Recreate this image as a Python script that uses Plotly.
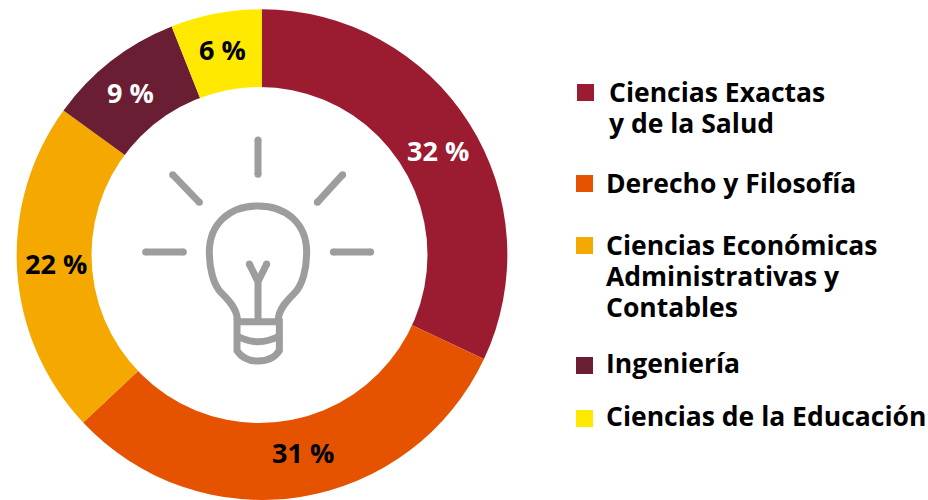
import plotly.graph_objects as go

W, H = 928, 500
categories = ["Ciencias Exactas<br>y de la Salud", "Derecho y Filosofía",
              "Ciencias Económicas<br>Administrativas y<br>Contables", "Ingeniería",
              "Ciencias de la Educación"]
values = [32, 31, 22, 9, 6]
colors = ["#9B1B30", "#E55300", "#F5A800", "#6A1E33", "#FFE900"]
text_colors = ["#FFFFFF", "#000000", "#000000", "#FFFFFF", "#000000"]
FONT = "Open Sans"
ICON = "#9D9D9C"

# value label centres in pixels
label_x = [437.5, 303, 55.5, 130.5, 222]
label_y = [150, 452, 263, 93, 50]

# legend layout: square left, square top, text left, first-line centre, line step
legend_x = [577, 576, 576, 576, 576]
legend_y = [84, 175, 237, 357, 410]
legend_tx = [606.5, 603.5, 603.5, 603.5, 603.5]
legend_cy = [92, 183, 245, 363, 416]
STEP = 31


def px(x):
    return x / W


def py(y):
    return 1 - y / H


fig = go.Figure()
fig.add_trace(go.Pie(
    labels=[c.replace("<br>", " ") for c in categories], values=values, sort=False,
    direction="clockwise", rotation=0, hole=0.66,
    domain=dict(x=[16.5 / W, 507.5 / W], y=[0, 490.7 / H]),
    marker=dict(colors=colors, line=dict(width=0)),
    textinfo="none", showlegend=False, hoverinfo="label+percent",
))


def circle(cx, cy, r, color):
    return dict(type="circle", xref="paper", yref="paper", x0=px(cx - r), x1=px(cx + r),
                y0=py(cy + r), y1=py(cy - r), fillcolor=color, line_width=0)


# inner opening of the ring sits slightly left of the outer circle's centre
shapes = [circle(259.5, 255, 168, "white")]
annotations = []
for v, x, y, c in zip(values, label_x, label_y, text_colors):
    annotations.append(dict(text=f"{v} %", xref="paper", yref="paper", x=px(x), y=py(y),
                            xanchor="center", yanchor="middle", showarrow=False,
                            font=dict(family=FONT, size=27, color=c, weight=700)))
for i, cat in enumerate(categories):
    shapes.append(dict(type="rect", xref="paper", yref="paper", x0=px(legend_x[i]), x1=px(legend_x[i] + 17),
                       y0=py(legend_y[i] + 17), y1=py(legend_y[i]), fillcolor=colors[i], line_width=0))
    for j, line in enumerate(cat.split("<br>")):
        annotations.append(dict(text=line, xref="paper", yref="paper", x=px(legend_tx[i]),
                                y=py(legend_cy[i] + j * STEP), xanchor="left", yanchor="middle", showarrow=False,
                                font=dict(family=FONT, size=26.5, color="#000000", weight=700)))


# light-bulb icon, traced in 3x crop coordinates starting at (130, 120)
def ix(x):
    return 130 + x / 3


def iy(y):
    return 120 + y / 3


def path(cmds):
    out = []
    for c in cmds:
        pts = [f"{px(ix(c[i])):.5f} {py(iy(c[i + 1])):.5f}" for i in range(1, len(c), 2)]
        out.append(c[0] + " " + ", ".join(pts))
    return " ".join(out)


bulb_paths = [
    [("M", 322, 600), ("C", 322, 565, 290, 535, 275, 520), ("C", 250, 495, 238, 445, 238, 397),
     ("C", 238, 310, 300, 258, 384, 258), ("C", 468, 258, 530, 310, 530, 397),
     ("C", 530, 445, 518, 495, 493, 520), ("C", 478, 535, 445, 565, 445, 600)],
    [("M", 321, 605), ("L", 448, 605), ("L", 448, 692), ("C", 430, 720, 405, 723, 384, 723),
     ("C", 365, 723, 340, 720, 321, 692), ("Z",)],
    [("M", 321, 648), ("Q", 384, 682, 448, 648)],
    [("M", 384, 600), ("L", 384, 485), ("L", 358, 432), ("M", 384, 485), ("L", 410, 432)],
]
for bp in bulb_paths:
    shapes.append(dict(type="path", xref="paper", yref="paper", path=path(bp),
                       line=dict(color=ICON, width=7), fillcolor="rgba(0,0,0,0)"))

rays = [(384, 60, 384, 163), (128, 164, 208, 247), (638, 164, 562, 247),
        (47, 396, 160, 396), (610, 396, 722, 396)]
for x0, y0, x1, y1 in rays:
    shapes.append(dict(type="line", xref="paper", yref="paper", x0=px(ix(x0)), y0=py(iy(y0)),
                       x1=px(ix(x1)), y1=py(iy(y1)), line=dict(color=ICON, width=7)))
    shapes.append(circle(ix(x0), iy(y0), 3.5, ICON))
    shapes.append(circle(ix(x1), iy(y1), 3.5, ICON))
for x, y in [(358, 432), (410, 432)]:
    shapes.append(circle(ix(x), iy(y), 3.5, ICON))

fig.update_layout(
    width=W, height=H, margin=dict(l=0, r=0, t=0, b=0), paper_bgcolor="white",
    shapes=shapes, annotations=annotations,
)
fig.write_html("out.html", config=dict(displayModeBar=False),
               post_script="document.body.style.margin='0';document.documentElement.style.overflow='hidden';")
